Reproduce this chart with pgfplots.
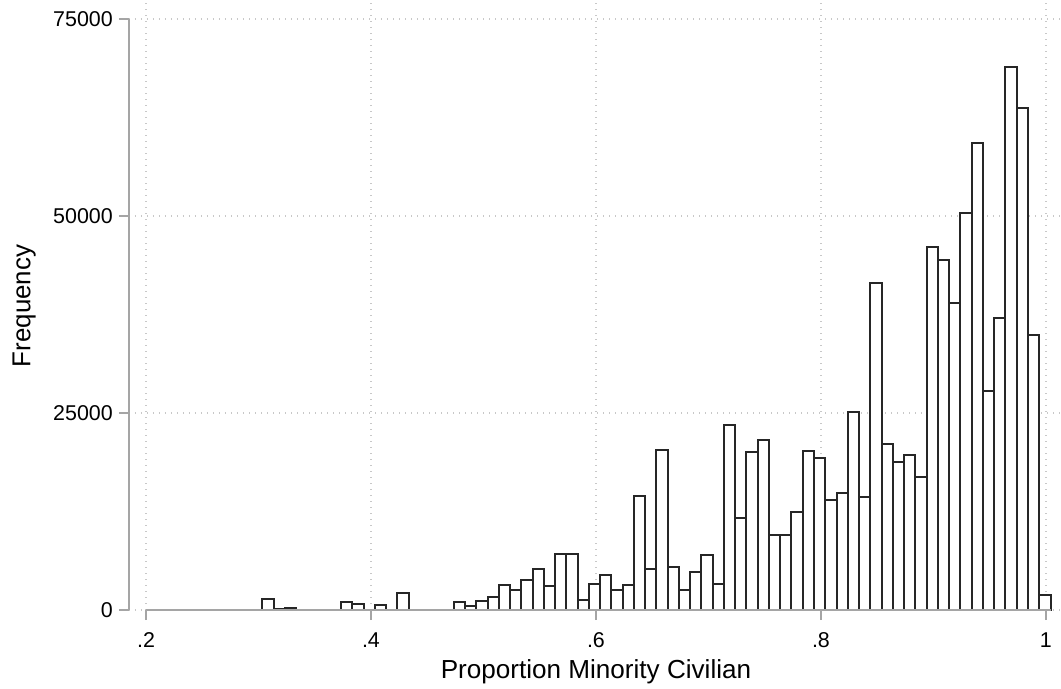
\documentclass[border=0pt]{standalone}
\usepackage{fontspec}
\setmainfont{Liberation Sans}
\usepackage{pgfplots}
\pgfplotsset{compat=1.18}
\definecolor{axgray}{RGB}{165,165,165}
\definecolor{gridgray}{RGB}{200,200,200}
\begin{document}
\begin{tikzpicture}
\path[use as bounding box] (-129bp,-79bp) rectangle (932bp,610bp);
\begin{axis}[
  at={(0,0)}, anchor=south west,
  width=931bp, height=607bp, scale only axis,
  xmin=0.1849, xmax=1.0125, ymin=0, ymax=77030,
  axis line style={draw=none},
  xtick={0.2,0.4,0.6,0.8,1}, xticklabels={.2,.4,.6,.8,1},
  ytick={0,25000,50000,75000}, yticklabels={0,25000,50000,75000},
  scaled y ticks=false,
  tick align=outside, major tick length=10bp,
  xtick pos=bottom, ytick pos=left,
  tick style={axgray, line width=1.4bp},
  grid=major,
  major grid style={gridgray, line width=1.2bp, dash pattern=on 1.2bp off 4.8bp},
  ticklabel style={font=\fontsize{21.5}{25}\selectfont, inner sep=0pt, text=black},
  xticklabel style={anchor=base, yshift=-27bp},
  yticklabel style={anchor=east, xshift=-6bp},
  clip=false,
]
\addplot[ybar, bar width=0.01001, bar shift=0pt, fill=white, draw=black!85, line width=2bp] coordinates {
(0.3084,1360) (0.3184,150) (0.3284,250)
(0.3784,1050) (0.3884,800) (0.4085,600) (0.4285,2120)
(0.4785,1050) (0.4885,500) (0.4986,1180) (0.5086,1650) (0.5186,3210)
(0.5286,2580) (0.5386,3850) (0.5486,5240) (0.5586,3000) (0.5686,7100)
(0.5786,7150) (0.5886,1310) (0.5987,3300) (0.6087,4400) (0.6187,2540)
(0.6287,3130) (0.6387,14470) (0.6487,5160) (0.6587,20300) (0.6687,5420)
(0.6787,2580) (0.6887,4780) (0.6988,6940) (0.7088,3300) (0.7188,23500)
(0.7288,11660) (0.7388,20090) (0.7488,21570) (0.7588,9560) (0.7688,9480)
(0.7788,12480) (0.7888,20180) (0.7989,19310) (0.8089,14000) (0.8189,14810)
(0.8289,25090) (0.8389,14300) (0.8489,41460) (0.8589,21070) (0.8689,18740)
(0.8789,19670) (0.8889,16840) (0.8990,46030) (0.9090,44420) (0.9190,38920)
(0.9290,50320) (0.9390,59260) (0.9490,27830) (0.9590,37020) (0.9690,68950)
(0.9790,63740) (0.9890,34900) (0.9991,1900)
};
\draw[axgray, line width=1.5bp] (axis cs:0.2,0) -- (axis cs:1.0041,0);
\draw[axgray, line width=1.5bp] (axis cs:0.1849,0) -- (axis cs:0.1849,75000);
\end{axis}
\node[rotate=90, anchor=base, font=\fontsize{26}{30}\selectfont] at (-98.5bp,304bp) {Frequency};
\node[anchor=base, font=\fontsize{26.2}{30}\selectfont] at (467bp,-68bp) {Proportion Minority Civilian};
\end{tikzpicture}
\end{document}
